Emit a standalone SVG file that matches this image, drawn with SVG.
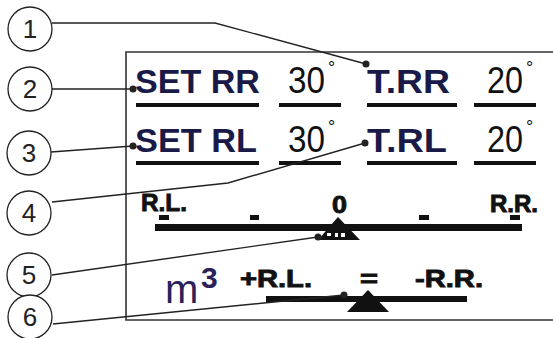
<svg xmlns="http://www.w3.org/2000/svg" width="553" height="338" viewBox="0 0 553 338">
<style>
.callout circle{fill:#fff;stroke:#222;stroke-width:1.3}
.callout text{font-family:"Liberation Sans",Arial,sans-serif;font-size:26px;fill:#222;text-anchor:middle}
.lead{fill:none;stroke:#222;stroke-width:1.4}
.dot{fill:#222}
.lbl{font-family:"Liberation Sans",Arial,sans-serif;font-size:34px;font-weight:bold;fill:#1a1a48}
.num{font-family:"Liberation Sans",Arial,sans-serif;font-size:36px;fill:#111}
.deg{font-size:18px}
.bld{font-family:"Liberation Sans",Arial,sans-serif;font-size:24px;font-weight:bold;fill:#111;stroke:#111;stroke-width:0.9}
.ul{fill:#111}
</style>
<rect width="553" height="338" fill="#fff"/>
<g id="panel">
<path d="M553,52 H126 V320 H553" fill="none" stroke="#333" stroke-width="1.6"/>
</g>
<g id="row1">
<text class="lbl" x="135" y="93" textLength="125" lengthAdjust="spacingAndGlyphs">SET RR</text>
<rect class="ul" x="136" y="103" width="123" height="4"/>
<text class="num" y="93"><tspan x="288" textLength="37" lengthAdjust="spacingAndGlyphs">30</tspan><tspan class="deg" x="328" dy="-19">°</tspan></text>
<rect class="ul" x="279" y="103" width="62" height="4"/>
<text class="lbl" x="367" y="93" textLength="83" lengthAdjust="spacingAndGlyphs">T.RR</text>
<rect class="ul" x="367" y="103" width="90" height="4"/>
<text class="num" y="93"><tspan x="487" textLength="36" lengthAdjust="spacingAndGlyphs">20</tspan><tspan class="deg" x="526" dy="-19">°</tspan></text>
<rect class="ul" x="474" y="103" width="62" height="4"/>
</g>
<g id="row2">
<text class="lbl" x="135" y="152" textLength="122" lengthAdjust="spacingAndGlyphs">SET RL</text>
<rect class="ul" x="136" y="161" width="123" height="4"/>
<text class="num" y="152"><tspan x="288" textLength="37" lengthAdjust="spacingAndGlyphs">30</tspan><tspan class="deg" x="328" dy="-19">°</tspan></text>
<rect class="ul" x="279" y="161" width="62" height="4"/>
<text class="lbl" x="367" y="152" textLength="80" lengthAdjust="spacingAndGlyphs">T.RL</text>
<rect class="ul" x="367" y="161" width="90" height="4"/>
<text class="num" y="152"><tspan x="487" textLength="36" lengthAdjust="spacingAndGlyphs">20</tspan><tspan class="deg" x="526" dy="-19">°</tspan></text>
<rect class="ul" x="474" y="161" width="62" height="4"/>
</g>
<g id="balance1">
<text class="bld" x="141" y="211" textLength="46" lengthAdjust="spacingAndGlyphs">R.L.</text>
<text class="bld" x="332" y="213" textLength="15" lengthAdjust="spacingAndGlyphs">0</text>
<text class="bld" x="490" y="212" textLength="48" lengthAdjust="spacingAndGlyphs">R.R.</text>
<rect x="159" y="215" width="10" height="5" fill="#111"/>
<rect x="250" y="215" width="9" height="5" fill="#111"/>
<rect x="419" y="215" width="10" height="5" fill="#111"/>
<rect x="510" y="215" width="10" height="5" fill="#111"/>
<rect x="155" y="224" width="367" height="7" fill="#111"/>
<polygon points="338,217 360,240 318,240" fill="#111"/>
<rect x="327" y="233" width="4" height="3" fill="#fff"/>
<rect x="335" y="233" width="3" height="4" fill="#fff"/>
<rect x="341" y="233" width="4" height="4" fill="#fff"/>
</g>
<g id="balance2">
<text y="303" font-family="Liberation Sans,Arial,sans-serif" fill="#2a2258"><tspan x="165" font-size="40">m</tspan><tspan x="201" dy="-15" font-size="30" font-weight="bold">3</tspan></text>
<text class="bld" x="240" y="287" textLength="72" lengthAdjust="spacingAndGlyphs">+R.L.</text>
<text class="bld" x="360" y="287" textLength="18" lengthAdjust="spacingAndGlyphs">=</text>
<text class="bld" x="415" y="287" textLength="68" lengthAdjust="spacingAndGlyphs">-R.R.</text>
<rect x="266" y="296" width="201" height="6" fill="#111"/>
<polygon points="368,290 389,312 347,312" fill="#111"/>
</g>
<g id="connectors">
<path class="lead" d="M52,23 H215 L366,64"/>
<circle class="dot" cx="366" cy="64" r="3.5"/>
<path class="lead" d="M52,89 H133"/>
<circle class="dot" cx="133" cy="89" r="3.5"/>
<path class="lead" d="M51,152 L133,146"/>
<circle class="dot" cx="133" cy="146" r="3.5"/>
<path class="lead" d="M52,202 L228,183 L365,143"/>
<circle class="dot" cx="365" cy="143" r="3.5"/>
<path class="lead" d="M52,275 L318,237"/>
<circle class="dot" cx="318" cy="237" r="3.5"/>
<path class="lead" d="M53,324 L344,295"/>
<circle class="dot" cx="344" cy="295" r="3.5"/>
</g>
<g id="c1" class="callout"><circle cx="30" cy="29" r="22"/><text x="30" y="38">1</text></g>
<g id="c2" class="callout"><circle cx="30" cy="89" r="22"/><text x="30" y="98">2</text></g>
<g id="c3" class="callout"><circle cx="29" cy="153" r="22"/><text x="29" y="162">3</text></g>
<g id="c4" class="callout"><circle cx="29" cy="213" r="22"/><text x="29" y="222">4</text></g>
<g id="c5" class="callout"><circle cx="29" cy="275" r="22"/><text x="29" y="284">5</text></g>
<g id="c6" class="callout"><circle cx="30" cy="317" r="22"/><text x="30" y="326">6</text></g>
</svg>
